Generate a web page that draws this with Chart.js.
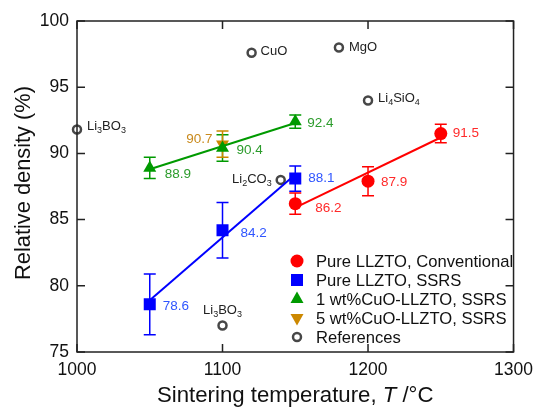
<!DOCTYPE html>
<html>
<head>
<meta charset="utf-8">
<script src="https://cdn.jsdelivr.net/npm/chart.js@4.4.0/dist/chart.umd.min.js"></script>
<style>
  html, body { margin: 0; padding: 0; background: #fff; }
  #wrap { width: 541px; height: 408px; }
</style>
</head>
<body>
<div id="wrap"><canvas id="chart" width="541" height="408"></canvas></div>
<script>
// --- data ---
const convTemps = [1150, 1200, 1250];
const convDensity = [86.2, 87.9, 91.5];
const convErr = [0.8, 1.1, 0.7];
const convFitTemps = [1150, 1250];
const convFit = [85.9, 91.2];

const ssrsTemps = [1050, 1100, 1150];
const ssrsDensity = [78.6, 84.2, 88.1];
const ssrsErr = [2.3, 2.1, 0.95];
const ssrsFitTemps = [1050, 1150];
const ssrsFit = [78.9, 88.4];

const cuo1Temps = [1050, 1100, 1150];
const cuo1Density = [88.9, 90.4, 92.4];
const cuo1Err = [0.8, 1.0, 0.5];
const cuo1FitTemps = [1050, 1150];
const cuo1Fit = [88.8, 92.3];

const cuo5Temps = [1100];
const cuo5Density = [90.7];
const cuo5Err = [1.0];

const refNames = ['Li3BO3', 'CuO', 'MgO', 'Li4SiO4', 'Li2CO3', 'Li3BO3'];
const refTemps = [1000, 1120, 1180, 1200, 1140, 1100];
const refDensity = [91.8, 97.6, 98.0, 94.0, 88.0, 77.0];

const xTicks = [1000, 1100, 1200, 1300];
const yTicks = [75, 80, 85, 90, 95, 100];

const legendNames = ['Pure LLZTO, Conventional', 'Pure LLZTO, SSRS', '1 wt%CuO-LLZTO, SSRS', '5 wt%CuO-LLZTO, SSRS', 'References'];

const FONT = '"Liberation Sans", Arial, sans-serif';
const RED = '#ff0000', BLUE = '#0000ff', GREEN = '#009a00', ORANGE = '#cc8800', GRAY = '#474747';

const pts = (xs, ys) => xs.map((x, i) => ({x, y: ys[i]}));

// label offsets (px) for value labels: [dx, dy, align]
const convLab = [[20, 5, 'left'], [13, 1, 'left'], [12, 0, 'left']];
const ssrsLab = [[13, 2, 'left'], [18, 3, 'left'], [13, 0, 'left']];
const cuo1Lab = [[15, 6, 'left'], [14, 2, 'left'], [12, 2, 'left']];
const cuo5Lab = [[-10, -5, 'right']];
const refLab = [[10, -3, 'left'], [9, -1, 'left'], [10, 0, 'left'], [10, -2, 'left'], [-9, 0, 'right'], [0, -15, 'center']];

// draw chemical formula with subscript digits
function richText(ctx, text, x, y, align, size, color) {
  const parts = text.split(/(\d+)/).filter(s => s.length);
  const big = size + 'px ' + FONT, small = Math.round(size * 0.7) + 'px ' + FONT;
  let w = 0;
  parts.forEach(p => { ctx.font = /\d/.test(p) ? small : big; w += ctx.measureText(p).width; });
  let cx = align === 'right' ? x - w : align === 'center' ? x - w / 2 : x;
  ctx.fillStyle = color;
  ctx.textAlign = 'left';
  ctx.textBaseline = 'middle';
  parts.forEach(p => {
    const sub = /\d/.test(p);
    ctx.font = sub ? small : big;
    ctx.fillText(p, cx, sub ? y + size * 0.28 : y);
    cx += ctx.measureText(p).width;
  });
}

function marker(ctx, style, x, y, color) {
  ctx.save();
  ctx.fillStyle = color;
  ctx.strokeStyle = color;
  ctx.beginPath();
  if (style === 'circle') {
    ctx.arc(x, y, 6.5, 0, Math.PI * 2); ctx.fill();
  } else if (style === 'rect') {
    ctx.rect(x - 6, y - 6, 12, 12); ctx.fill();
  } else if (style === 'up') {
    ctx.moveTo(x, y - 7.5); ctx.lineTo(x + 6.5, y + 4); ctx.lineTo(x - 6.5, y + 4); ctx.closePath(); ctx.fill();
  } else if (style === 'down') {
    ctx.moveTo(x, y + 7.5); ctx.lineTo(x + 6.5, y - 4); ctx.lineTo(x - 6.5, y - 4); ctx.closePath(); ctx.fill();
  } else {
    ctx.fillStyle = '#fff';
    ctx.lineWidth = 2.5;
    ctx.arc(x, y, 4, 0, Math.PI * 2); ctx.fill(); ctx.stroke();
  }
  ctx.restore();
}

const errGroups = [
  [convTemps, convDensity, convErr, RED],
  [ssrsTemps, ssrsDensity, ssrsErr, BLUE],
  [cuo1Temps, cuo1Density, cuo1Err, GREEN],
  [cuo5Temps, cuo5Density, cuo5Err, ORANGE]
];

const labelGroups = [
  [convTemps, convDensity, convLab, '#ff2a2a'],
  [ssrsTemps, ssrsDensity, ssrsLab, '#2f55ff'],
  [cuo1Temps, cuo1Density, cuo1Lab, '#2c9c2c'],
  [cuo5Temps, cuo5Density, cuo5Lab, '#c98a1c']
];

const decor = {
  id: 'decor',
  beforeDatasetsDraw(chart) {
    const {ctx, scales: {x, y}} = chart;
    ctx.save();
    ctx.lineWidth = 1.5;
    errGroups.forEach(([xs, ys, es, col]) => {
      ctx.strokeStyle = col;
      xs.forEach((t, i) => {
        const px = x.getPixelForValue(t);
        const top = y.getPixelForValue(ys[i] + es[i]);
        const bot = y.getPixelForValue(ys[i] - es[i]);
        ctx.beginPath();
        ctx.moveTo(px, top); ctx.lineTo(px, bot);
        ctx.moveTo(px - 6, top); ctx.lineTo(px + 6, top);
        ctx.moveTo(px - 6, bot); ctx.lineTo(px + 6, bot);
        ctx.stroke();
      });
    });
    ctx.restore();
  },
  afterDraw(chart) {
    const {ctx, chartArea: a, scales: {x, y}} = chart;
    ctx.save();
    // frame and inward ticks
    ctx.strokeStyle = '#222';
    ctx.lineWidth = 1.5;
    ctx.strokeRect(a.left, a.top, a.right - a.left, a.bottom - a.top);
    ctx.beginPath();
    xTicks.forEach(t => {
      const px = x.getPixelForValue(t);
      ctx.moveTo(px, a.bottom); ctx.lineTo(px, a.bottom - 8);
      ctx.moveTo(px, a.top); ctx.lineTo(px, a.top + 8);
    });
    yTicks.forEach(t => {
      const py = y.getPixelForValue(t);
      ctx.moveTo(a.left, py); ctx.lineTo(a.left + 8, py);
      ctx.moveTo(a.right, py); ctx.lineTo(a.right - 8, py);
    });
    ctx.stroke();

    // value labels
    labelGroups.forEach(([xs, ys, offs, col]) => {
      ctx.font = '13.5px ' + FONT;
      ctx.fillStyle = col;
      ctx.textBaseline = 'middle';
      xs.forEach((t, i) => {
        const [dx, dy, al] = offs[i];
        ctx.textAlign = al;
        ctx.fillText(ys[i].toFixed(1), x.getPixelForValue(t) + dx, y.getPixelForValue(ys[i]) + dy);
      });
    });

    // reference labels
    refNames.forEach((n, i) => {
      const [dx, dy, al] = refLab[i];
      richText(ctx, n, x.getPixelForValue(refTemps[i]) + dx, y.getPixelForValue(refDensity[i]) + dy, al, 13, '#222');
    });

    // legend
    const styles = ['circle', 'rect', 'up', 'down', 'ref'];
    const cols = [RED, BLUE, GREEN, ORANGE, GRAY];
    legendNames.forEach((n, i) => {
      const ly = 261 + i * 19;
      marker(ctx, styles[i], 297, ly, cols[i]);
      ctx.font = '16.6px ' + FONT;
      ctx.fillStyle = '#111';
      ctx.textAlign = 'left';
      ctx.textBaseline = 'middle';
      ctx.fillText(n, 316, ly + 1);
    });

    // axis titles
    ctx.fillStyle = '#111';
    ctx.textBaseline = 'middle';
    const cx = (a.left + a.right) / 2, ty = 396;
    const segs = [['Sintering temperature, ', ''], ['T', 'italic '], [' /°C', '']];
    let tw = 0;
    segs.forEach(([s, st]) => { ctx.font = st + '22.2px ' + FONT; tw += ctx.measureText(s).width; });
    let sx = cx - tw / 2;
    ctx.textAlign = 'left';
    segs.forEach(([s, st]) => { ctx.font = st + '22.2px ' + FONT; ctx.fillText(s, sx, ty); sx += ctx.measureText(s).width; });

    ctx.translate(24, 183);
    ctx.rotate(-Math.PI / 2);
    ctx.textAlign = 'center';
    ctx.font = '21.8px ' + FONT;
    ctx.fillText('Relative density (%)', 0, 0);
    ctx.restore();
  }
};

new Chart(document.getElementById('chart'), {
  type: 'scatter',
  data: {
    datasets: [
      {type: 'line', data: pts(convFitTemps, convFit), borderColor: RED, borderWidth: 2, pointRadius: 0},
      {type: 'line', data: pts(ssrsFitTemps, ssrsFit), borderColor: BLUE, borderWidth: 2, pointRadius: 0},
      {type: 'line', data: pts(cuo1FitTemps, cuo1Fit), borderColor: GREEN, borderWidth: 2, pointRadius: 0},
      {data: pts(convTemps, convDensity), pointStyle: 'circle', pointRadius: 6.5, backgroundColor: RED, borderWidth: 0},
      {data: pts(ssrsTemps, ssrsDensity), pointStyle: 'rect', pointRadius: 8.5, backgroundColor: BLUE, borderWidth: 0},
      {data: pts(cuo1Temps, cuo1Density), pointStyle: 'triangle', pointRadius: 7.5, backgroundColor: GREEN, borderWidth: 0},
      {data: pts(cuo5Temps, cuo5Density), pointStyle: 'triangle', rotation: 180, pointRadius: 7.5, backgroundColor: ORANGE, borderWidth: 0},
      {data: pts(refTemps, refDensity), pointStyle: 'circle', pointRadius: 4, backgroundColor: '#fff', borderColor: GRAY, borderWidth: 2.5, clip: false}
    ]
  },
  options: {
    responsive: false,
    animation: false,
    devicePixelRatio: 1,
    layout: {padding: {top: 21, right: 22, left: 0, bottom: 0}},
    plugins: {legend: {display: false}, tooltip: {enabled: false}},
    scales: {
      x: {
        type: 'linear', min: 1000, max: 1300,
        afterFit: s => { s.height = 56; },
        afterBuildTicks: s => { s.ticks = xTicks.map(v => ({value: v})); },
        grid: {display: false, drawTicks: false},
        border: {display: false},
        ticks: {padding: 8, color: '#111', font: {family: FONT, size: 17.5}, maxRotation: 0, callback: v => String(v)}
      },
      y: {
        type: 'linear', min: 75, max: 100,
        afterFit: s => { s.width = 77; },
        afterBuildTicks: s => { s.ticks = yTicks.map(v => ({value: v})); },
        grid: {display: false, drawTicks: false},
        border: {display: false},
        ticks: {padding: 8, color: '#111', font: {family: FONT, size: 17.5}, callback: v => String(v)}
      }
    }
  },
  plugins: [decor]
});
</script>
</body>
</html>
